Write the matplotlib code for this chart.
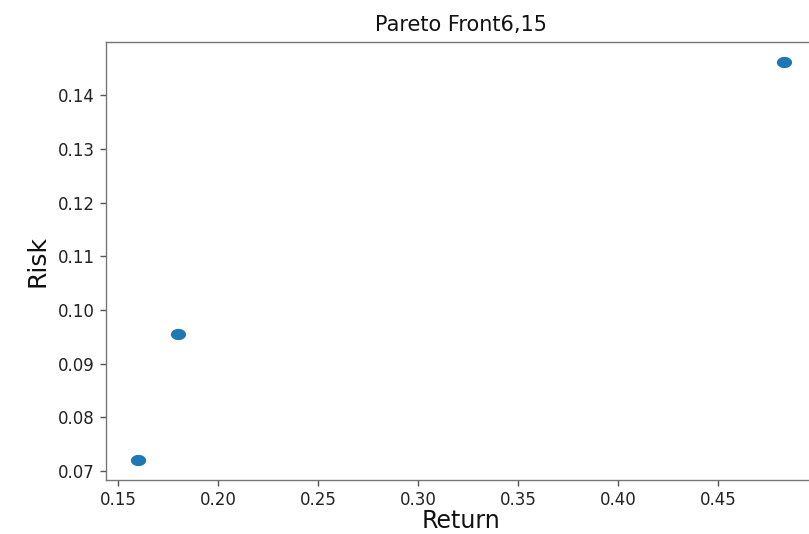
import numpy as np
import matplotlib
matplotlib.use("Agg")
import matplotlib.pyplot as plt
from matplotlib.path import Path

returns = [0.160, 0.180, 0.483]
risks = [0.0720, 0.0955, 0.1462]
title = "Pareto Front6,15"
xlabel = "Return"
ylabel = "Risk"

plt.rcParams['font.family'] = ['DejaVu Sans']

fig = plt.figure(figsize=(8.09, 5.34), dpi=100)
ax = fig.add_axes([106/809, 1 - 480.2/534, 710/809, 438.3/534])

# slightly wide elliptical marker (picture is horizontally stretched)
t = np.linspace(0, 2*np.pi, 60)
ell = Path(np.column_stack([np.cos(t), 0.74*np.sin(t)]))

ax.scatter(returns, risks, marker=ell, s=120, color='#1f77b4', linewidths=0)

ax.set_xticks([0.15, 0.20, 0.25, 0.30, 0.35, 0.40, 0.45])
ax.set_yticks([0.07, 0.08, 0.09, 0.10, 0.11, 0.12, 0.13, 0.14])
ax.set_xticklabels(["0.15", "0.20", "0.25", "0.30", "0.35", "0.40", "0.45"])
ax.set_yticklabels(["0.07", "0.08", "0.09", "0.10", "0.11", "0.12", "0.13", "0.14"])

spine_c = '#777777'
for s in ax.spines.values():
    s.set_color(spine_c)
    s.set_linewidth(1.0)
ax.tick_params(colors='#555555', labelcolor='#222222', labelsize=12, length=4.5, width=1.0)

ax.set_title(title, fontsize=15, pad=8, color='#111111')
ax.set_xlabel(xlabel, fontsize=17, labelpad=0, color='#111111')
ax.set_ylabel(ylabel, fontsize=18, labelpad=6, color='#111111')

fig.savefig("out.png", dpi=100)
